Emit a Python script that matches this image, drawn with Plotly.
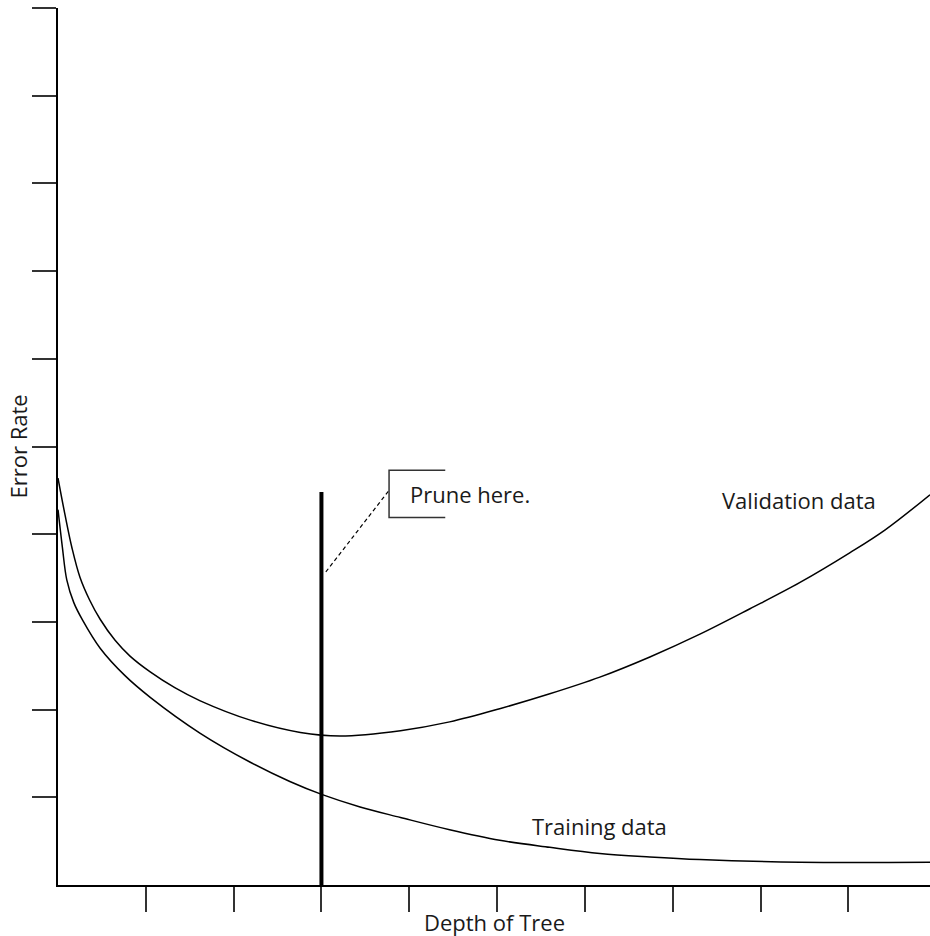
import plotly.graph_objects as go

# Depth of tree (axis units, one per tick) and error rates
val_x = [0.00, 0.08, 0.16, 0.25, 0.36, 0.48, 0.65, 0.82, 1.05, 1.33, 1.62, 2.19, 2.76, 3.21, 3.90, 4.46, 5.03, 5.60, 6.17, 6.74, 7.31, 7.88, 8.45, 9.02, 9.42, 9.93]
val_y = [4.64, 4.22, 3.84, 3.51, 3.25, 3.03, 2.79, 2.61, 2.43, 2.25, 2.10, 1.88, 1.74, 1.70, 1.76, 1.86, 2.01, 2.18, 2.37, 2.60, 2.86, 3.15, 3.45, 3.79, 4.05, 4.45]

train_x = [0.00, 0.05, 0.10, 0.18, 0.28, 0.48, 0.76, 1.05, 1.62, 2.19, 2.64, 3.01, 3.44, 3.90, 4.46, 5.03, 5.60, 6.17, 6.74, 7.31, 8.45, 9.93]
train_y = [4.28, 3.85, 3.48, 3.22, 3.02, 2.70, 2.39, 2.14, 1.73, 1.40, 1.18, 1.03, 0.89, 0.77, 0.63, 0.51, 0.43, 0.36, 0.32, 0.29, 0.26, 0.26]

prune_x = [3.0, 3.0]
prune_y = [0.0, 4.48]

leader_x = [3.05, 3.77]
leader_y = [3.57, 4.50]

bracket_x = [4.41, 3.77, 3.77, 4.41]
bracket_y = [4.73, 4.73, 4.19, 4.19]

x_ticks = [1, 2, 3, 4, 5, 6, 7, 8, 9]
y_ticks = [1, 2, 3, 4, 5, 6, 7, 8, 9, 10]

FONT = "Open Sans"
ink = "#000000"

fig = go.Figure()
fig.add_trace(go.Scatter(x=val_x, y=val_y, mode="lines", line=dict(color=ink, width=1.5, shape="spline", smoothing=1.0), hoverinfo="skip"))
fig.add_trace(go.Scatter(x=train_x, y=train_y, mode="lines", line=dict(color=ink, width=1.5, shape="spline", smoothing=1.0), hoverinfo="skip"))
fig.add_trace(go.Scatter(x=prune_x, y=prune_y, mode="lines", line=dict(color=ink, width=4), hoverinfo="skip"))
fig.add_trace(go.Scatter(x=leader_x, y=leader_y, mode="lines", line=dict(color=ink, width=1.2, dash="4px,3px"), hoverinfo="skip"))
fig.add_trace(go.Scatter(x=bracket_x, y=bracket_y, mode="lines", line=dict(color="#333333", width=1.5), hoverinfo="skip"))

ann_font = dict(family=FONT, size=22, color="#1a1a1a")
fig.add_annotation(x=3.99, y=4.46, text="Prune here.", showarrow=False, xanchor="left", yanchor="middle", font=ann_font)
fig.add_annotation(x=7.54, y=4.39, text="Validation data", showarrow=False, xanchor="left", yanchor="middle", font=ann_font)
fig.add_annotation(x=5.38, y=0.67, text="Training data", showarrow=False, xanchor="left", yanchor="middle", font=ann_font)
fig.add_annotation(xref="paper", yref="paper", x=0.5, y=-0.0425, text="Depth of Tree", showarrow=False, xanchor="center", yanchor="middle", borderpad=0, font=ann_font)
fig.add_annotation(xref="paper", yref="paper", x=-0.047, y=0.5, text="Error Rate", textangle=-90, showarrow=False, xanchor="center", yanchor="middle", borderpad=0, font=ann_font)

fig.update_layout(
    width=930, height=936,
    margin=dict(l=58, r=0, t=8, b=51, pad=0),
    paper_bgcolor="white", plot_bgcolor="white",
    showlegend=False,
    xaxis=dict(range=[0, 9.93], tickvals=x_ticks, showticklabels=False, ticks="outside", ticklen=25, tickwidth=1.5, tickcolor="#333333",
               showline=True, linecolor=ink, linewidth=1.5, showgrid=False, zeroline=False, fixedrange=True),
    yaxis=dict(range=[0, 10], tickvals=y_ticks, showticklabels=False, ticks="outside", ticklen=24, tickwidth=1.5, tickcolor="#333333",
               showline=True, linecolor=ink, linewidth=1.5, showgrid=False, zeroline=False, fixedrange=True),
)

fig.write_html("out.html", config={"displayModeBar": False},
               post_script="document.body.style.margin='0px';document.body.style.overflow='hidden';")
